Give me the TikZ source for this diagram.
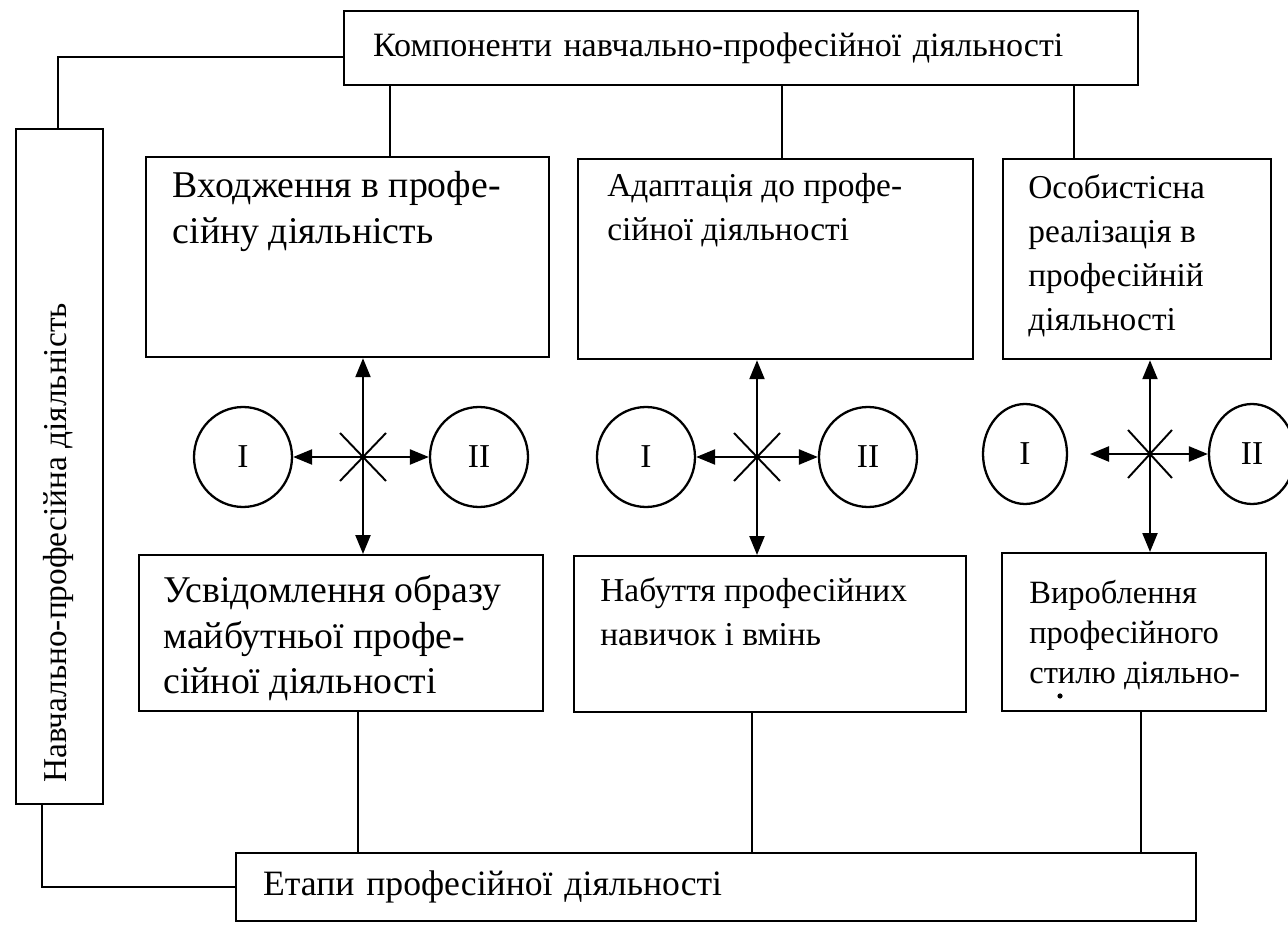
\documentclass[tikz,border=0pt]{standalone}
\usepackage{fontspec}
\setmainfont{Liberation Serif}
\usetikzlibrary{positioning,arrows.meta,shapes.geometric}

\begin{document}
\begin{tikzpicture}[x=0.02cm, y=-0.02cm, every node/.style={font=\fontsize{19}{25}\selectfont, align=left}]
  \tikzset{
    frame/.style={draw, line width=1.3pt, anchor=north west, inner sep=0pt},
    words/.style={inner sep=0pt, anchor=north west},
    big/.style={font=\fontsize{21.5}{26}\selectfont},
    small/.style={font=\fontsize{18.5}{23}\selectfont},
    phase/.style={draw, ellipse, line width=1.3pt, inner sep=0pt, minimum width=1.96cm, minimum height=2cm},
    link/.style={line width=1.3pt},
    cross/.style={line width=1.1pt},
    dir/.style={-{Triangle[length=0.38cm,width=0.3cm]}, line width=1.3pt}
  }
  \useasboundingbox (0,0) rectangle (1288,925);

  % frame boxes
  \node[frame, font=\fontsize{19.4}{24}\selectfont, minimum width=15.88cm, minimum height=1.48cm, inner xsep=0.58cm, text width=14.72cm] (comp) at (343,10) {Компоненти навчально-професійної діяльності};
  \node[frame, minimum width=1.74cm, minimum height=13.5cm] (study) at (15,128) {};
  \node[rotate=90, inner sep=0pt] (study-t) at (58,543) {Навчально-професійна діяльність};
  \node[frame, font=\fontsize{20.3}{24}\selectfont, minimum width=19.2cm, minimum height=1.36cm, inner xsep=0.54cm, text width=18.12cm] (stages) at (235,852) {Етапи професійної діяльності};

  % upper row
  \node[frame, minimum width=8.06cm, minimum height=4cm] (entry) at (145,156) {};
  \node[words, big, below right=0.3cm and 0.55cm of entry.north west] (entry-t) {Входження в профе-\\сійну діяльність};
  \node[frame, minimum width=7.9cm, minimum height=4cm] (adapt) at (577,158) {};
  \node[words, below right=0.3cm and 0.6cm of adapt.north west] (adapt-t) {Адаптація до профе-\\сійної діяльності};
  \node[frame, minimum width=5.36cm, minimum height=4cm] (selfreal) at (1002,158) {};
  \node[words, below right=0.32cm and 0.52cm of selfreal.north west] (selfreal-t) {Особистісна\\реалізація в\\професійній\\діяльності};

  % lower row
  \node[frame, minimum width=8.08cm, minimum height=3.12cm] (image) at (138,554) {};
  \node[words, big, below right=0.42cm and 0.5cm of image.north west] (image-t) {Усвідомлення образу\\майбутньої профе-\\сійної діяльності};
  \node[frame, minimum width=7.84cm, minimum height=3.12cm] (skills) at (573,555) {};
  \node[words, below right=0.45cm and 0.54cm of skills.north west] (skills-t) {Набуття професійних\\навичок і вмінь};
  \node[frame, minimum width=5.28cm, minimum height=3.16cm] (manner) at (1001,552) {};
  \node[words, small, below right=0.55cm and 0.56cm of manner.north west] (manner-t) {Вироблення\\професійного\\стилю діяльно-};
  \fill (1060,696) circle (2.6);

  % circles
  \node[phase] (c1a) at (243,457) {I};
  \node[phase] (c1b) at (479,457) {II};
  \node[phase] (c2a) at (646,457) {I};
  \node[phase] (c2b) at (868,457) {II};
  \node[phase, minimum width=1.68cm] (c3a) at (1025,454) {I};
  \node[phase, minimum width=1.72cm] (c3b) at (1252,454) {II};

  % hubs
  \coordinate (h1) at (363,457);
  \coordinate (h2) at (757,457);
  \coordinate (h3) at (1150,454);
  \coordinate (h3l) at (1090,454);
  \draw[cross] (h1) ++(-23,-24) -- ++(46,48) (h1) ++(23,-24) -- ++(-46,48);
  \draw[cross] (h2) ++(-23,-24) -- ++(46,48) (h2) ++(23,-24) -- ++(-46,48);
  \draw[cross] (h3) ++(-22,-24) -- ++(44,48) (h3) ++(22,-24) -- ++(-44,48);

  \draw[dir] (h1) -- (entry.south -| h1);
  \draw[dir] (h1) -- (image.north -| h1);
  \draw[dir] (h1) -- (c1a);
  \draw[dir] (h1) -- (c1b);
  \draw[dir] (h2) -- (adapt.south -| h2);
  \draw[dir] (h2) -- (skills.north -| h2);
  \draw[dir] (h2) -- (c2a);
  \draw[dir] (h2) -- (c2b);
  \draw[dir] (h3) -- (selfreal.south -| h3);
  \draw[dir] (h3) -- (manner.north -| h3);
  \draw[dir] (h3) -- (h3l);
  \draw[dir] (h3) -- (c3b);

  % links to the outer boxes
  \coordinate (k1) at (58,57);
  \coordinate (k2) at (42,880);
  \coordinate (t1) at (390,0);
  \coordinate (t2) at (782,0);
  \coordinate (t3) at (1074,0);
  \coordinate (b1) at (358,0);
  \coordinate (b2) at (752,0);
  \coordinate (b3) at (1141,0);
  \draw[link] (comp.west |- k1) -- (k1) -- (study.north -| k1);
  \draw[link] (study.south -| k2) |- (stages.west);
  \draw[link] (comp.south -| t1) -- (entry.north -| t1);
  \draw[link] (comp.south -| t2) -- (adapt.north -| t2);
  \draw[link] (comp.south -| t3) -- (selfreal.north -| t3);
  \draw[link] (image.south -| b1) -- (stages.north -| b1);
  \draw[link] (skills.south -| b2) -- (stages.north -| b2);
  \draw[link] (manner.south -| b3) -- (stages.north -| b3);
\end{tikzpicture}
\end{document}
